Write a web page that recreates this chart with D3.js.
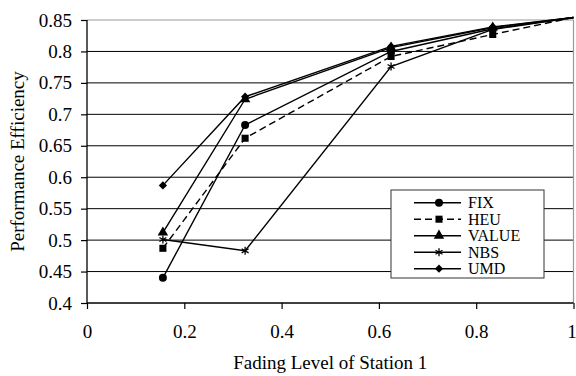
<!DOCTYPE html>
<html>
<head>
<meta charset="utf-8">
<script src="https://cdn.jsdelivr.net/npm/d3@7"></script>
<style>
  body { margin: 0; background: #fff; }
  svg { display: block; }
  svg text { font-family: "Liberation Serif", "DejaVu Serif", serif; }
</style>
</head>
<body>
<svg id="chart" width="576" height="376"></svg>
<script>
// fading level of station 1
const fading = [0.156, 0.325, 0.625, 0.834, 1];

const fixVals = [0.44, 0.683, 0.8, 0.836, 0.854];
const heuVals = [0.487, 0.662, 0.792, 0.827, 0.854];
const valueVals = [0.512, 0.724, 0.806, 0.838, 0.854];
const nbsVals = [0.501, 0.483, 0.776, 0.835, 0.854];
const umdVals = [0.587, 0.728, 0.808, 0.839, 0.854];

const seriesNames = ["FIX", "HEU", "VALUE", "NBS", "UMD"];
const yTicks = [0.4, 0.45, 0.5, 0.55, 0.6, 0.65, 0.7, 0.75, 0.8, 0.85];
const xTicks = [0, 0.2, 0.4, 0.6, 0.8, 1];

const series = [
  { name: "FIX", values: fixVals, symbol: d3.symbolCircle, size: 50, rot: 0, dash: null },
  { name: "HEU", values: heuVals, symbol: d3.symbolSquare, size: 50, rot: 0, dash: "7,4" },
  { name: "VALUE", values: valueVals, symbol: d3.symbolTriangle, size: 48, rot: 0, dash: null },
  { name: "NBS", values: nbsVals, symbol: d3.symbolAsterisk, size: 45, rot: 0, dash: null },
  { name: "UMD", values: umdVals, symbol: d3.symbolSquare, size: 34, rot: 45, dash: null },
];

const pLeft = 87, pRight = 573.5, pTop = 20, pBottom = 303;

const x = d3.scaleLinear().domain([0, 1]).range([pLeft, pRight]);
const y = d3.scaleLinear().domain([0.4, 0.85]).range([pBottom, pTop]);

const svg = d3.select("#chart");

// gridlines
svg.append("g")
  .selectAll("line")
  .data(yTicks.filter(t => t > 0.4 && t < 0.85))
  .enter()
  .append("line")
  .attr("x1", pLeft).attr("x2", pRight)
  .attr("y1", d => y(d)).attr("y2", d => y(d))
  .attr("stroke", "#000").attr("stroke-width", 1);

// plot border top/right (grey)
svg.append("path")
  .attr("d", `M${pLeft},${y(0.85)}H${pRight}V${pBottom}`)
  .attr("fill", "none").attr("stroke", "#999").attr("stroke-width", 1.2);

// axes
const yAxis = svg.append("g")
  .attr("transform", `translate(${pLeft},0)`)
  .call(d3.axisLeft(y).tickValues(yTicks).tickSize(6).tickPadding(9)
    .tickFormat(d => String(+d.toFixed(2))));

const xAxis = svg.append("g")
  .attr("transform", `translate(0,${pBottom})`)
  .call(d3.axisBottom(x).tickValues(xTicks).tickSize(6).tickPadding(16)
    .tickFormat(d => String(d)));

[yAxis, xAxis].forEach(ax => {
  ax.attr("font-family", "Liberation Serif").attr("font-size", 19);
  ax.select(".domain").attr("stroke", "#000").attr("stroke-width", 1.3);
  ax.selectAll(".tick line").attr("stroke", "#000").attr("stroke-width", 1.2);
  ax.selectAll("text").attr("fill", "#000");
});
xAxis.select(".domain").attr("d", `M${pLeft},0H${pRight}`);
// last label sits at the window edge, nudge it in a little
xAxis.selectAll(".tick text").filter(d => d === 1).attr("dx", -2);
yAxis.select(".domain").attr("d", `M0,${pBottom}V${pTop}`);

// axis titles
svg.append("text")
  .attr("x", (pLeft + pRight) / 2).attr("y", 369)
  .attr("text-anchor", "middle")
  .style("font-size", "19px")
  .text("Fading Level of Station 1");

svg.append("text")
  .attr("transform", `translate(24,${(pTop + pBottom) / 2}) rotate(-90)`)
  .attr("text-anchor", "middle")
  .style("font-size", "19px")
  .text("Performance Efficiency");

// series
const line = d3.line().x(d => x(d[0])).y(d => y(d[1]));

series.forEach(s => {
  const pts = fading.map((f, i) => [f, s.values[i]]);
  svg.append("path")
    .datum(pts)
    .attr("d", line)
    .attr("fill", "none")
    .attr("stroke", "#000")
    .attr("stroke-width", 1.4)
    .attr("stroke-dasharray", s.dash);

  svg.append("g")
    .selectAll("path")
    .data(pts.filter(p => p[1] <= 0.85))
    .enter()
    .append("path")
    .attr("transform", d => `translate(${x(d[0])},${y(d[1])}) rotate(${s.rot})`)
    .attr("d", d3.symbol().type(s.symbol).size(s.size))
    .attr("fill", "#000")
    .attr("stroke", "#000")
    .attr("stroke-width", s.symbol === d3.symbolAsterisk ? 1.3 : 0);
});

// legend
const lg = svg.append("g").attr("transform", "translate(391,190)");
lg.append("rect")
  .attr("width", 153).attr("height", 88)
  .attr("fill", "#fff").attr("stroke", "#333").attr("stroke-width", 1);

const items = lg.selectAll(".item")
  .data(series)
  .enter()
  .append("g")
  .attr("transform", (d, i) => `translate(0,${12.7 + i * 16.5})`);

items.append("line")
  .attr("x1", 23).attr("x2", 70)
  .attr("stroke", "#000").attr("stroke-width", 1.4)
  .attr("stroke-dasharray", d => d.dash);

items.append("path")
  .attr("transform", d => `translate(48,0) rotate(${d.rot})`)
  .attr("d", d => d3.symbol().type(d.symbol).size(d.size)())
  .attr("fill", "#000")
  .attr("stroke", "#000")
  .attr("stroke-width", d => d.symbol === d3.symbolAsterisk ? 1.3 : 0);

items.append("text")
  .attr("x", 77).attr("dy", "0.35em")
  .style("font-size", "16px")
  .text((d, i) => seriesNames[i]);
</script>
</body>
</html>
